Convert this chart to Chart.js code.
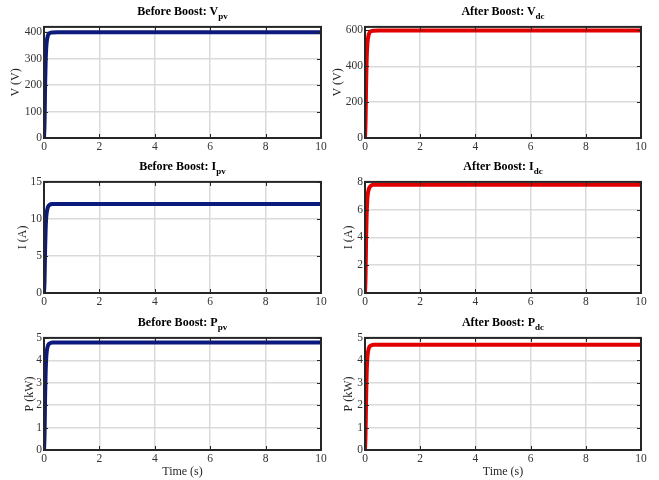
<!DOCTYPE html>
<html>
<head>
<meta charset="utf-8">
<script src="https://cdn.jsdelivr.net/npm/chart.js@4.4.0/dist/chart.umd.min.js"></script>
<style>
  html, body { margin: 0; padding: 0; background: #fff; }
  body { position: relative; width: 659px; height: 480px; overflow: hidden; }
  .panel { position: absolute; }
  .ttl { position: absolute; text-align: center; font: bold 12px "Liberation Serif", "Times New Roman", serif; line-height: 14px; color: #000; white-space: nowrap; }
  .ttl sub { font-size: 9px; vertical-align: -4px; line-height: 0; }
</style>
</head>
<body>
<script>
// ===== Boost converter waveforms =====

const timeS = [0, 0.02, 0.04, 0.06, 0.08, 0.1, 0.14, 0.2, 0.3, 0.5, 1, 10];

const vPv = [0, 60, 200, 290, 340, 365, 387, 396, 399, 400, 400, 400];
const vDc = [0, 90, 300, 435, 510, 548, 580, 594, 599, 600, 600, 600];
const iPv = [0, 1.8, 6, 8.7, 10.2, 10.9, 11.6, 11.9, 12, 12, 12, 12];
const iDc = [0, 1.2, 3.9, 5.6, 6.6, 7.1, 7.5, 7.7, 7.8, 7.8, 7.8, 7.8];
const pPv = [0, 0.7, 2.4, 3.5, 4.1, 4.4, 4.65, 4.75, 4.8, 4.8, 4.8, 4.8];
const pDc = [0, 0.7, 2.3, 3.4, 4.0, 4.3, 4.55, 4.65, 4.7, 4.7, 4.7, 4.7];

const timeTicks = [0, 2, 4, 6, 8, 10];
const vPvTicks = [0, 100, 200, 300, 400];
const vDcTicks = [0, 200, 400, 600];
const iPvTicks = [0, 5, 10, 15];
const iDcTicks = [0, 2, 4, 6, 8];
const pTicks = [0, 1, 2, 3, 4, 5];

const BLUE = '#0b1a7c';
const RED = '#e00000';
const SERIF = '"Liberation Serif", "Times New Roman", serif';

const panels = [
  {title: 'Before Boost: V', sub: 'pv', data: vPv, color: BLUE, yMax: 420, yTicks: vPvTicks, yLabel: 'V (V)', yPad: 16, area: [44, 24, 321, 138], xLabel: false},
  {title: 'After Boost: V', sub: 'dc', data: vDc, color: RED, yMax: 620, yTicks: vDcTicks, yLabel: 'V (V)', yPad: 17, area: [365, 24, 641, 138], xLabel: false},
  {title: 'Before Boost: I', sub: 'pv', data: iPv, color: BLUE, yMax: 15, yTicks: iPvTicks, yLabel: 'I (A)', yPad: 22.5, area: [44, 179, 321, 293], xLabel: false},
  {title: 'After Boost: I', sub: 'dc', data: iDc, color: RED, yMax: 8, yTicks: iDcTicks, yLabel: 'I (A)', yPad: 27.5, area: [365, 179, 641, 293], xLabel: false},
  {title: 'Before Boost: P', sub: 'pv', data: pPv, color: BLUE, yMax: 5, yTicks: pTicks, yLabel: 'P (kW)', yPad: 29.5, area: [44, 335, 321, 450], xLabel: true},
  {title: 'After Boost: P', sub: 'dc', data: pDc, color: RED, yMax: 5, yTicks: pTicks, yLabel: 'P (kW)', yPad: 27.5, area: [365, 335, 641, 450], xLabel: true}
];

// box round the plot area with inward ticks on all four sides
const boxFrame = {
  id: 'boxFrame',
  afterDatasetsDraw(chart) {
    const {ctx, chartArea: a, scales: {x, y}} = chart;
    ctx.save();
    ctx.strokeStyle = '#262626';
    ctx.lineWidth = 1;
    ctx.beginPath();
    x.ticks.forEach(t => {
      const px = Math.round(x.getPixelForValue(t.value)) + 0.5;
      ctx.moveTo(px, a.bottom); ctx.lineTo(px, a.bottom - 4);
      ctx.moveTo(px, a.top); ctx.lineTo(px, a.top + 4);
    });
    y.ticks.forEach(t => {
      const py = Math.round(y.getPixelForValue(t.value)) + 0.5;
      ctx.moveTo(a.left, py); ctx.lineTo(a.left + 4, py);
      ctx.moveTo(a.right, py); ctx.lineTo(a.right - 4, py);
    });
    ctx.stroke();
    ctx.lineWidth = 2;
    ctx.strokeRect(a.left, a.top, a.right - a.left, a.bottom - a.top);
    ctx.restore();
  }
};

panels.forEach(p => {
  const [l, t, r, b] = p.area;
  const div = document.createElement('div');
  div.className = 'panel';
  div.style.left = (l - 44) + 'px';
  div.style.top = (t - 6) + 'px';
  div.style.width = (r - l + 56) + 'px';
  div.style.height = (b - t + 40) + 'px';
  const cv = document.createElement('canvas');
  div.appendChild(cv);
  document.body.appendChild(div);

  const ttl = document.createElement('div');
  ttl.className = 'ttl';
  ttl.style.left = l + 'px';
  ttl.style.width = (r - l) + 'px';
  ttl.style.top = (t - 20) + 'px';
  ttl.innerHTML = p.title + '<sub>' + p.sub + '</sub>';
  document.body.appendChild(ttl);

  new Chart(cv, {
    type: 'line',
    data: {
      datasets: [{
        data: timeS.map((tt, i) => ({x: tt, y: p.data[i]})),
        borderColor: p.color,
        borderWidth: 4,
        pointRadius: 0,
        fill: false,
        cubicInterpolationMode: 'monotone'
      }]
    },
    options: {
      responsive: true,
      maintainAspectRatio: false,
      animation: false,
      events: [],
      layout: {autoPadding: false, padding: {top: 6, right: 12, left: 0, bottom: 0}},
      plugins: {legend: {display: false}, tooltip: {enabled: false}},
      scales: {
        x: {
          type: 'linear', min: 0, max: 10,
          afterBuildTicks: s => { s.ticks = timeTicks.map(v => ({value: v})); },
          afterFit: s => { s.height = 34; },
          grid: {color: '#dadada', lineWidth: 1.5, drawTicks: false},
          border: {display: false},
          ticks: {padding: 2, color: '#333', font: {family: SERIF, size: 11.5}, maxRotation: 0},
          title: {display: p.xLabel, text: 'Time (s)', color: '#262626', font: {family: SERIF, size: 12}, padding: {top: 0, bottom: 5}}
        },
        y: {
          min: 0, max: p.yMax,
          afterBuildTicks: s => { s.ticks = p.yTicks.map(v => ({value: v})); },
          afterFit: s => { s.width = 44; },
          grid: {color: '#dadada', lineWidth: 1.5, drawTicks: false},
          border: {display: false},
          ticks: {padding: 2, color: '#333', font: {family: SERIF, size: 11.5}},
          title: {display: true, text: p.yLabel, color: '#262626', font: {family: SERIF, size: 12}, padding: {top: p.yPad - 7.2, bottom: 0}}
        }
      }
    },
    plugins: [boxFrame]
  });
});
</script>
</body>
</html>
